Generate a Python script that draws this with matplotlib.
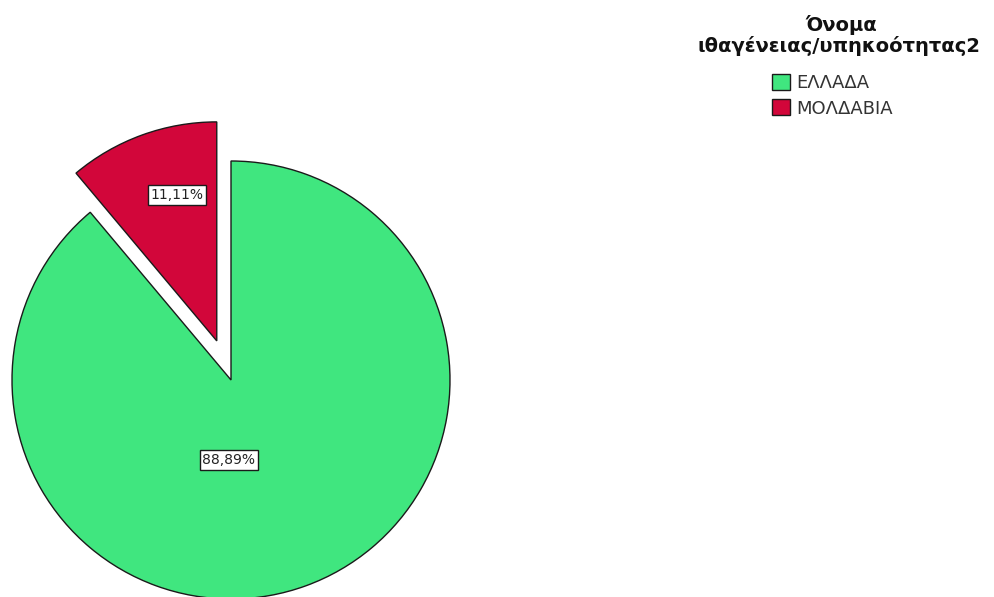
import matplotlib
matplotlib.use("Agg")
import matplotlib.pyplot as plt
from matplotlib.patches import Patch

categories = ["ΕΛΛΑΔΑ", "ΜΟΛΔΑΒΙΑ"]
counts = [8, 1]
colors = ["#40E67F", "#D2063A"]
legend_title_lines = ["Όνομα", "ιθαγένειας/υπηκοότητας2"]

plt.rcParams['font.family'] = ['DejaVu Sans']

W, H = 995, 597
fig = plt.figure(figsize=(W / 100, H / 100), dpi=100)
ax = fig.add_axes([0, 0, 1, 1])
R = 219.0
cx, cy = 231.0, 380.0

total = sum(counts)
pcts = [c / total * 100 for c in counts]
wedges, _ = ax.pie(counts, colors=colors, startangle=90, counterclock=False,
                   explode=[0, 0.19], radius=1.0, frame=True,
                   wedgeprops=dict(edgecolor='#1a1a1a', linewidth=1.0))
ax.set_xlim(-cx / R, (W - cx) / R)
ax.set_ylim(-(H - cy) / R, cy / R)
ax.set_aspect('auto')
ax.axis('off')

fmt = lambda v: f"{v:.2f}%".replace('.', ',')
label_pos = [(-0.01, -0.365), (-0.247, 0.845)]
for p, (x, y) in zip(pcts, label_pos):
    ax.text(x, y, fmt(p), ha='center', va='center', fontsize=10, color='#222222',
            bbox=dict(boxstyle='square,pad=0.2', facecolor='white', edgecolor='#1a1a1a', linewidth=1.0))

fig.text(841 / W, 1 - 31 / H, legend_title_lines[0], ha='center', va='baseline', fontsize=14,
         fontweight='bold', color='#111111')
fig.text(839 / W, 1 - 52 / H, legend_title_lines[1], ha='center', va='baseline', fontsize=14,
         fontweight='bold', color='#111111')

handles = [Patch(facecolor=c, edgecolor='#1a1a1a', linewidth=1.0) for c in colors]
leg = fig.legend(handles, categories, loc='upper left', bbox_to_anchor=(772 / W, 1 - 74 / H),
                 frameon=False, fontsize=13, handlelength=1.0, handleheight=1.0,
                 handletextpad=0.35, labelspacing=0.39, borderpad=0, borderaxespad=0)
for t in leg.get_texts():
    t.set_color('#333333')

fig.savefig("out.png", dpi=100)
